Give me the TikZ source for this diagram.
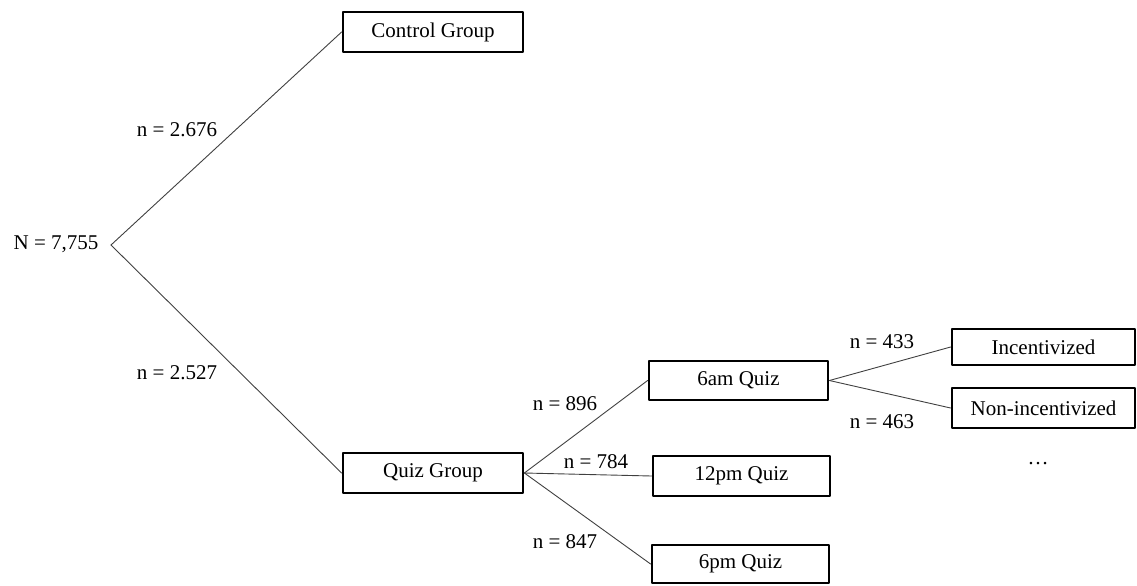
\documentclass[tikz,border=0pt]{standalone}
\usepackage{fontspec}
\setmainfont{Liberation Serif}
\usepackage{tikz}
\usetikzlibrary{calc}

\tikzset{
  groupbox/.style={draw, line width=1.4pt, inner sep=0pt, minimum height=20pt, font=\fontsize{10.5}{12}\selectfont},
  branch/.style={line width=0.45pt, color=black!75},
  count/.style={inner sep=0pt, font=\fontsize{10.5}{12}\selectfont}
}

\begin{document}
\begin{tikzpicture}[line cap=round,line join=round,x=0.5pt,y=-0.5pt]
                \useasboundingbox (0,0) rectangle (1137,585);
                % groups
                \node [groupbox, minimum width=90pt] (ctrl) at (433,32) {Control Group};
                \node [groupbox, minimum width=90pt] (quiz) at (433,473) {Quiz Group};
                \node [groupbox, minimum width=89.5pt, minimum height=19.5pt] (sixam) at (738.5,380.5) {6am Quiz};
                \node [groupbox, minimum width=88.5pt] (noon) at (741.5,476) {12pm Quiz};
                \node [groupbox, minimum width=88.5pt, minimum height=19pt] (sixpm) at (740.5,564) {6pm Quiz};
                \node [groupbox, minimum width=91.5pt, minimum height=18pt] (incent) at (1043.5,347) {Incentivized};
                \node [groupbox, minimum width=91.5pt] (nonincent) at (1043.5,408) {Non-incentivized};
                % root
                \node [count] (total) at (56,244) {N = 7,755};
                \coordinate (split) at (111,245);
                \draw [branch] (split)-- (ctrl.west);
                \draw [branch] (split)-- (quiz.west);
                \draw [branch] (quiz.east)-- (sixam.west);
                \draw [branch] (quiz.east)-- (noon.west);
                \draw [branch] (quiz.east)-- (sixpm.west);
                \draw [branch] (sixam.east)-- (incent.west);
                \draw [branch] (sixam.east)-- (nonincent.west);
                % sample sizes
                \node [count] (nctrl) at (177,130) {n = 2.676};
                \node [count] (nquiz) at (177,373) {n = 2.527};
                \node [count] (nsixam) at (565,404) {n = 896};
                \node [count] (nnoon) at (596,462) {n = 784};
                \node [count] (nsixpm) at (565,542) {n = 847};
                \node [count] (nincent) at (882,342) {n = 433};
                \node [count] (nnonincent) at (882,422) {n = 463};
                \node [count] (more) at (1038,464) {\dots};
            \end{tikzpicture}
\end{document}
